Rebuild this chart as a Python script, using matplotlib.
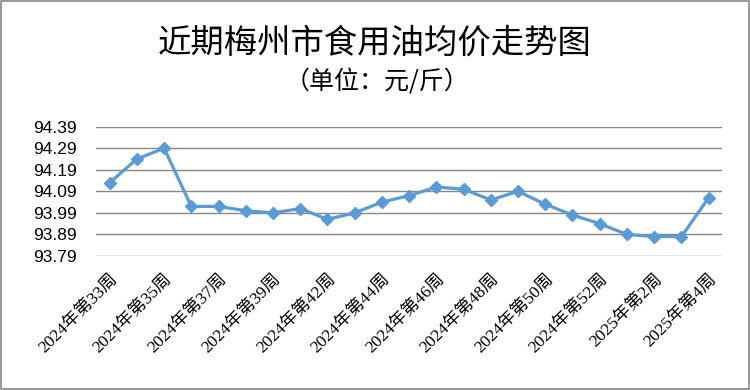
import matplotlib
matplotlib.use("Agg")
import matplotlib.pyplot as plt
from matplotlib.patches import Rectangle

plt.rcParams['font.family'] = ['Noto Sans CJK SC', 'DejaVu Sans']

# 周次标签与均价（元/斤）
weeks = ['2024年第33周', '2024年第34周', '2024年第35周', '2024年第36周', '2024年第37周',
         '2024年第38周', '2024年第39周', '2024年第41周', '2024年第42周', '2024年第43周',
         '2024年第44周', '2024年第45周', '2024年第46周', '2024年第47周', '2024年第48周',
         '2024年第49周', '2024年第50周', '2024年第51周', '2024年第52周', '2025年第1周',
         '2025年第2周', '2025年第3周', '2025年第4周']
prices = [94.13, 94.24, 94.29, 94.02, 94.02, 94.00, 93.99, 94.01, 93.96, 93.99,
          94.04, 94.07, 94.11, 94.10, 94.05, 94.09, 94.03, 93.98, 93.94, 93.89,
          93.88, 93.88, 94.06]
y_ticks = [93.79, 93.89, 93.99, 94.09, 94.19, 94.29, 94.39]

fig = plt.figure(figsize=(7.5, 3.9), dpi=100)
ax = fig.add_axes([0.128, 0.3436, 0.835, 0.3316])

x = list(range(len(weeks)))
ax.plot(x, prices, color='#5B9BD5', linewidth=2.3, marker='D', markersize=6,
        markerfacecolor='#5B9BD5', markeredgecolor='#5B9BD5', zorder=3)

ax.set_xlim(-0.5, len(weeks) - 0.5)
ax.set_ylim(y_ticks[0], y_ticks[-1])
ax.set_yticks(y_ticks)
ax.set_yticklabels([f'{v:.2f}' for v in y_ticks], fontsize=12.5,
                   family=['Liberation Sans', 'DejaVu Sans'])
ax.set_xticks(x[::2])
ax.set_xticklabels(weeks[::2], fontsize=12.5, rotation=45, ha='right', va='top',
                   rotation_mode='anchor',
                   family=['Liberation Serif', 'Noto Sans CJK SC', 'DejaVu Sans'])
ax.tick_params(axis='both', length=0)
ax.tick_params(axis='y', pad=14)
ax.tick_params(axis='x', pad=11)

ax.grid(axis='y', color='#868686', linewidth=1)
ax.set_axisbelow(True)
for s in ax.spines.values():
    s.set_visible(False)

fig.text(0.499, 0.89, '近期梅州市食用油均价走势图', fontsize=24, ha='center', va='center')
fig.text(0.502, 0.788, '（单位：元/斤）', fontsize=18, ha='center', va='center')

fig.patches.append(Rectangle((0.001, 0.002), 0.997, 0.995, transform=fig.transFigure,
                             fill=False, edgecolor='#868686', linewidth=1.2))

fig.savefig('out.png', dpi=100)
